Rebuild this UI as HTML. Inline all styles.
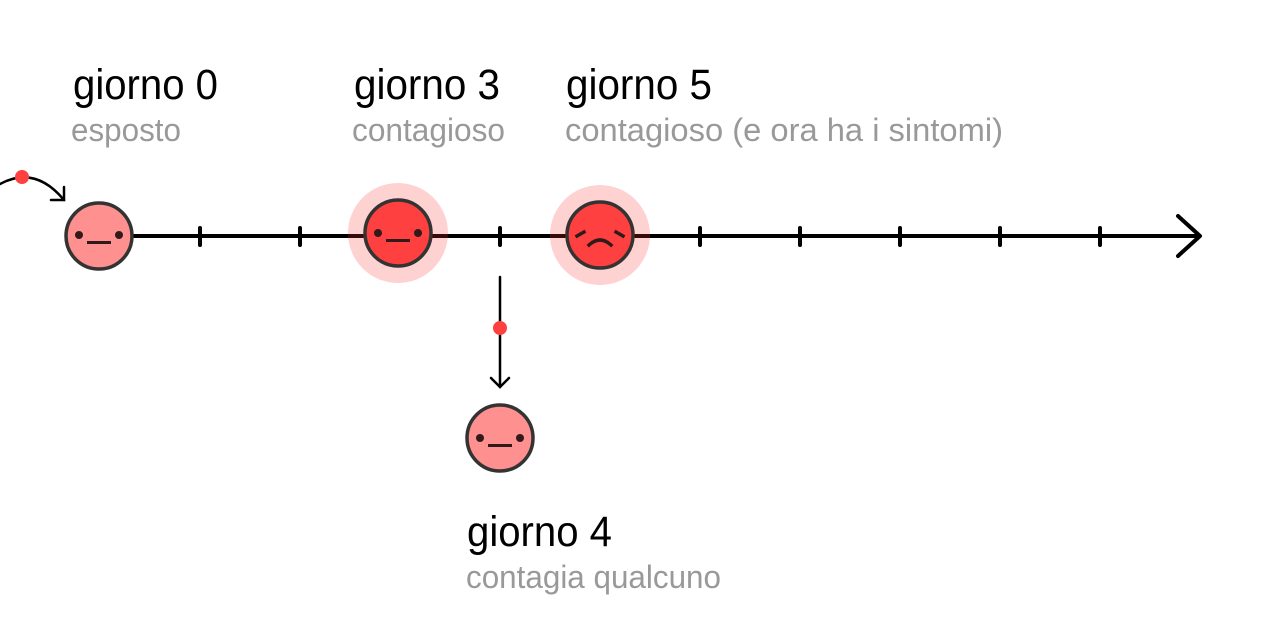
<!DOCTYPE html>
<html><head><style>body{margin:0;background:#fff}svg{display:block}</style></head><body>
<svg width="1280" height="640" viewBox="0 0 1280 640" xmlns="http://www.w3.org/2000/svg" font-family="Liberation Sans, sans-serif">
<g stroke="#000" stroke-width="4" stroke-linecap="round" fill="none">
<line x1="130" y1="236" x2="1198" y2="236"/>
<polyline points="1178,216 1200,236 1178,256" stroke-linejoin="round"/>
<g stroke-width="4"><line x1="200" y1="228" x2="200" y2="245"/><line x1="300" y1="228" x2="300" y2="245"/><line x1="500" y1="228" x2="500" y2="245"/><line x1="700" y1="228" x2="700" y2="245"/><line x1="800" y1="228" x2="800" y2="245"/><line x1="900" y1="228" x2="900" y2="245"/><line x1="1000" y1="228" x2="1000" y2="245"/><line x1="1100" y1="228" x2="1100" y2="245"/></g>
</g>
<g stroke="#000" stroke-width="2.5" fill="none" stroke-linecap="round">
<path d="M0,184 Q35,165 64,200"/><polyline points="51,200 64,200 64,187"/>
<line x1="500" y1="277" x2="500" y2="387"/><polyline points="491,378 500,387 509,378"/>
</g>
<circle cx="22" cy="177" r="7" fill="#ff4040"/>
<circle cx="500" cy="328" r="7" fill="#ff4040"/>
<circle cx="398" cy="233" r="50" fill="#ff3030" fill-opacity="0.22"/>
<circle cx="600" cy="235" r="50" fill="#ff3030" fill-opacity="0.22"/>
<g stroke="#333" stroke-width="3.5">
<circle cx="99" cy="236" r="33" fill="#ff9090"/>
<circle cx="398" cy="233" r="33" fill="#ff4040"/>
<circle cx="600" cy="235" r="33" fill="#ff4040"/>
<circle cx="500" cy="438" r="33" fill="#ff9090"/>
</g>
<g fill="#331a1a">
<circle cx="79" cy="235" r="4"/><circle cx="119" cy="235" r="4"/><rect x="87" y="241" width="24" height="3"/>
<circle cx="378" cy="233" r="4"/><circle cx="418" cy="233" r="4"/><rect x="386" y="239" width="24" height="3"/>
<circle cx="480" cy="438" r="4"/><circle cx="520" cy="438" r="4"/><rect x="488" y="444" width="24" height="3"/>
</g>
<g stroke="#331a1a" stroke-width="3.5" fill="none" stroke-linecap="square">
<line x1="577" y1="236" x2="584" y2="232"/><line x1="616" y1="232" x2="623" y2="236"/>
<path d="M589,245 Q600,235 611,245"/>
</g>
<g font-size="43" fill="#000">
<text x="73" y="99" textLength="145" lengthAdjust="spacingAndGlyphs">giorno 0</text>
<text x="354" y="99" textLength="146" lengthAdjust="spacingAndGlyphs">giorno 3</text>
<text x="566" y="99" textLength="146" lengthAdjust="spacingAndGlyphs">giorno 5</text>
<text x="467" y="546" textLength="145" lengthAdjust="spacingAndGlyphs">giorno 4</text>
</g>
<g font-size="32" fill="#999">
<text x="71" y="141" textLength="110" lengthAdjust="spacingAndGlyphs">esposto</text>
<text x="352" y="141" textLength="153" lengthAdjust="spacingAndGlyphs">contagioso</text>
<text x="565" y="141" textLength="438" lengthAdjust="spacingAndGlyphs">contagioso (e ora ha i sintomi)</text>
<text x="466" y="588" textLength="255" lengthAdjust="spacingAndGlyphs">contagia qualcuno</text>
</g>
</svg>
</body></html>
